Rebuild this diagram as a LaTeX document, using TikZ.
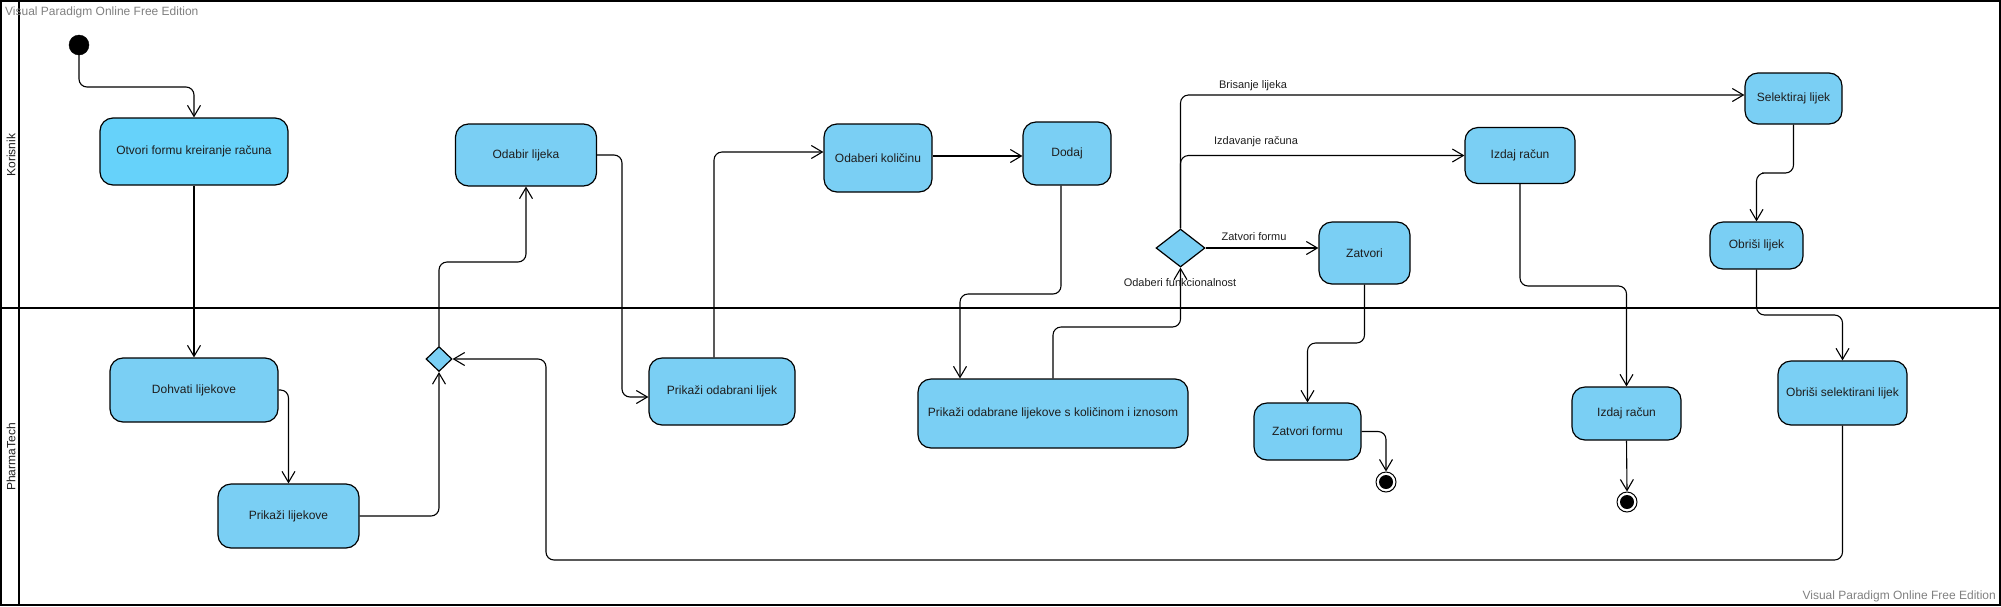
\documentclass[tikz,border=0pt]{standalone}
\usepackage{fontspec}
\setmainfont{Liberation Sans}
\usetikzlibrary{arrows.meta,shapes.geometric}
\definecolor{actfill}{RGB}{122,207,244}
\definecolor{actfirst}{RGB}{102,210,250}
\definecolor{txt}{RGB}{30,30,30}
\definecolor{wm}{RGB}{128,128,128}
\tikzset{
  act/.style={draw=black, line width=1.2pt, fill=actfill, rounded corners=13pt,
    inner sep=0pt, text=txt, font=\fontsize{12}{14}\selectfont},
  dec/.style={draw=black, line width=1.2pt, fill=actfill, diamond, inner sep=0pt, aspect=1},
  flow/.style={draw=black, line width=1.1pt, rounded corners=8pt,
    -{Straight Barb[length=11pt,width=13pt,line width=1.1pt]}},
  elabel/.style={text=txt, font=\fontsize{11}{13}\selectfont, inner sep=0pt},
  lane/.style={draw=black, line width=2pt},
}
\begin{document}
\begin{tikzpicture}[x=1pt,y=-1pt]
\useasboundingbox (0,0) rectangle (2001,606);
% frame and lanes
\draw[lane] (1,1) rectangle (2000,605);
\draw[lane] (19,1) -- (19,605);
\draw[lane] (1,308) -- (2000,308);
\node[rotate=90, text=txt, font=\fontsize{12}{14}\selectfont] (lk) at (11,155) {Korisnik};
\node[rotate=90, text=txt, font=\fontsize{12}{14}\selectfont] (lp) at (11,457) {PharmaTech};
\node[anchor=west, text=wm, font=\fontsize{12}{14}\selectfont, inner sep=0pt] (wm1) at (5,12) {Visual Paradigm Online Free Edition};
\node[anchor=east, text=wm, font=\fontsize{12}{14}\selectfont, inner sep=0pt] (wm2) at (1996,596) {Visual Paradigm Online Free Edition};

% initial and final nodes
\node[circle, fill=black, draw=black, minimum size=20pt, inner sep=0pt] (init) at (79,45) {};
\node[circle, fill=white, draw=black, line width=1pt, minimum size=20pt, inner sep=0pt] (fin1) at (1386,482) {};
\fill[black] (fin1.center) circle (7pt);
\node[circle, fill=white, draw=black, line width=1pt, minimum size=20pt, inner sep=0pt] (fin2) at (1627,502) {};
\fill[black] (fin2.center) circle (7pt);

% activities
\node[act, fill=actfirst, minimum width=188pt, minimum height=67pt] (otvori) at (194,151.5) {Otvori formu kreiranje računa};
\node[act, minimum width=168pt, minimum height=64pt] (dohvati) at (194,390) {Dohvati lijekove};
\node[act, minimum width=141pt, minimum height=64pt] (prikazi) at (288.5,516) {Prikaži lijekove};
\node[act, minimum width=141pt, minimum height=62pt] (odabir) at (526,155) {Odabir lijeka};
\node[act, minimum width=146pt, minimum height=67pt] (prodab) at (722,391.5) {Prikaži odabrani lijek};
\node[act, minimum width=108pt, minimum height=68pt] (kolicina) at (878,158) {Odaberi količinu};
\node[act, minimum width=88pt, minimum height=63pt] (dodaj) at (1067,153.5) {Dodaj};
\node[act, minimum width=270pt, minimum height=69pt] (prkol) at (1053,413.5) {Prikaži odabrane lijekove s količinom i iznosom};
\node[act, minimum width=91pt, minimum height=62pt] (zatvori) at (1364.5,253) {Zatvori};
\node[act, minimum width=110pt, minimum height=56pt] (izdaj1) at (1520,155.5) {Izdaj račun};
\node[act, minimum width=97pt, minimum height=51pt] (selekt) at (1793.5,98.5) {Selektiraj lijek};
\node[act, minimum width=93pt, minimum height=47pt] (obrisi) at (1756.5,245.5) {Obriši lijek};
\node[act, minimum width=129pt, minimum height=64pt] (obrsel) at (1842.5,393) {Obriši selektirani lijek};
\node[act, minimum width=107pt, minimum height=57pt] (zatvfor) at (1307.5,431.5) {Zatvori formu};
\node[act, minimum width=109pt, minimum height=53pt] (izdaj2) at (1626.5,413.5) {Izdaj račun};

% decisions
\node[dec, minimum width=26pt, minimum height=25pt] (d1) at (439,359) {};
\node[dec, minimum width=49pt, minimum height=38pt] (d2) at (1180.5,248) {};

% flows
\draw[flow] (init.south) -- (79,87) -| (otvori.north);
\draw[flow] (otvori.south) -- (dohvati.north);
\draw[flow] (dohvati.east) -| (prikazi.north);
\draw[flow] (prikazi.east) -| (d1.south);
\draw[flow] (d1.north) -- (439,262) -| (odabir.south);
\draw[flow] (odabir.east) -- (622,155) |- ([yshift=-5.5pt]prodab.west);
\draw[flow] ([xshift=-8pt]prodab.north) |- ([yshift=6pt]kolicina.west);
\draw[flow] ([yshift=2pt]kolicina.east) -- ([yshift=2pt]kolicina.east -| dodaj.west);
\draw[flow] ([xshift=-6pt]dodaj.south) |- (1000,294) -| ([xshift=-93pt]prkol.north);
\draw[flow] (prkol.north) |- (1120,327) -| (d2.south);
\draw[flow] (d2.north) |- ([yshift=3.5pt]selekt.west);
\draw[flow] (d2.north) |- (izdaj1.west);
\draw[flow] (d2.east) -- (d2.east -| zatvori.west);
\draw[flow] (zatvori.south) |- (1330,343) -| (zatvfor.north);
\draw[flow] (zatvfor.east) -| (fin1.north);
\draw[flow] (izdaj1.south) |- (1570,286) -| (izdaj2.north);
\draw[flow] (izdaj2.south) -- (fin2.north);
\draw[flow] (selekt.south) |- (1770,173) -| (obrisi.north);
\draw[flow] (obrisi.south) |- (1800,315) -| (obrsel.north);
\draw[flow] (obrsel.south) |- (546,560) |- (d1.east);

% edge labels
\node[elabel] (lb1) at (1253,86) {Brisanje lijeka};
\node[elabel] (lb2) at (1256,142) {Izdavanje računa};
\node[elabel] (lb3) at (1254,237) {Zatvori formu};
\node[elabel] (lb4) at (1180,283) {Odaberi funkcionalnost};
\end{tikzpicture}
\end{document}
